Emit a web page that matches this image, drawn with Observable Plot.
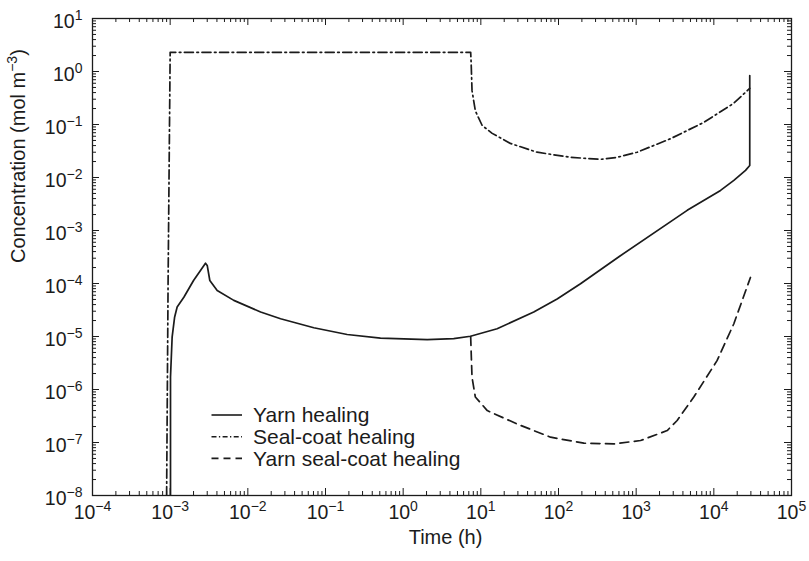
<!DOCTYPE html>
<html><head><meta charset="utf-8">
<script src="https://cdn.jsdelivr.net/npm/d3@7"></script>
<script src="https://cdn.jsdelivr.net/npm/@observablehq/plot@0.6"></script>
<style>html,body{margin:0;padding:0;background:#fff;} #chart{position:relative;width:809px;height:561px;}</style>
</head><body><div id="chart"></div>
<script>
// ---- data ----
const yarnTime = [1.01e-3, 1.01e-3, 1.06e-3, 1.14e-3, 1.23e-3, 1.5e-3, 2.0e-3, 2.85e-3, 3.0e-3, 3.24e-3, 4.03e-3, 6.6e-3, 1.46e-2, 2.64e-2, 7.07e-2, 0.19, 0.51, 2.04, 4.48, 7.36, 16.2, 48, 96, 192, 600, 4540, 12200, 18100, 25600, 29000, 29000];
const yarnConc = [1e-9, 1.7e-6, 9.7e-6, 2.3e-5, 3.6e-5, 5.5e-5, 1.14e-4, 2.42e-4, 2.19e-4, 1.14e-4, 7.4e-5, 4.8e-5, 2.9e-5, 2.16e-5, 1.46e-5, 1.09e-5, 9.3e-6, 8.7e-6, 9.1e-6, 1.01e-5, 1.4e-5, 2.9e-5, 5.1e-5, 9.9e-5, 3.2e-4, 2.4e-3, 5.7e-3, 8.8e-3, 1.36e-2, 1.68e-2, 0.84];

const sealTime = [8.9e-4, 9.4e-4, 1.0e-3, 7.4, 7.5, 7.7, 8.5, 10.4, 14, 24, 53, 143, 347, 569, 1030, 2770, 7360, 17900, 29000];
const sealConc = [1e-9, 1e-4, 2.3, 2.3, 1.5, 0.44, 0.18, 0.096, 0.068, 0.044, 0.030, 0.024, 0.022, 0.024, 0.030, 0.054, 0.109, 0.249, 0.48];

const yscTime = [7.4, 7.55, 7.7, 8.5, 12.1, 29, 79, 212, 515, 1140, 2510, 3370, 5520, 11000, 18100, 29600];
const yscConc = [1.0e-5, 4e-6, 1.7e-6, 7.2e-7, 4.0e-7, 2.25e-7, 1.26e-7, 9.7e-8, 9.4e-8, 1.09e-7, 1.68e-7, 2.6e-7, 7.2e-7, 3.5e-6, 1.74e-5, 1.3e-4];

const seriesNames = ["Yarn healing", "Seal-coat healing", "Yarn seal-coat healing"];

const xMajor = [1e-4, 1e-3, 1e-2, 1e-1, 1e0, 1e1, 1e2, 1e3, 1e4, 1e5];
const xTickLabels = ["10^{−4}", "10^{−3}", "10^{−2}", "10^{−1}", "10^{0}", "10^{1}", "10^{2}", "10^{3}", "10^{4}", "10^{5}"];
const yMajor = [1e-8, 1e-7, 1e-6, 1e-5, 1e-4, 1e-3, 1e-2, 1e-1, 1e0, 1e1];
const yTickLabels = ["10^{−8}", "10^{−7}", "10^{−6}", "10^{−5}", "10^{−4}", "10^{−3}", "10^{−2}", "10^{−1}", "10^{0}", "10^{1}"];
const xTitle = "Time (h)";
const yTitle = "Concentration (mol m^{−3})";

// ---- derived tables ----
const toRows = (T, C) => T.map((t, i) => ({t, c: C[i]}));
const yarnRows = toRows(yarnTime, yarnConc);
const sealRows = toRows(sealTime, sealConc);
const yscRows = toRows(yscTime, yscConc);
const minors = (majors) => majors.slice(0, -1).flatMap(m => [2,3,4,5,6,7,8,9].map(k => m * k));
const xMinor = minors(xMajor);
const yMinor = minors(yMajor);

const W = 809, H = 561, mL = 92, mR = 18, mT = 18, mB = 66;
const fw = W - mL - mR, fh = H - mT - mB;
const ink = "#1b1b1b";
const MAJ = 7, MIN = 4;
const FONT = "'Liberation Sans', Arial, Helvetica, sans-serif";

const lineOpts = {x: "t", y: "c", stroke: ink, strokeWidth: 1.7, strokeLinejoin: "round", clip: true};

const chart = Plot.plot({
  width: W, height: H,
  marginLeft: mL, marginRight: mR, marginTop: mT, marginBottom: mB,
  style: {fontFamily: FONT, background: "#fff", color: ink},
  x: {type: "log", domain: [1e-4, 1e5], axis: null},
  y: {type: "log", domain: [1e-8, 1e1], axis: null},
  marks: [
    Plot.line(sealRows, {...lineOpts, strokeDasharray: "9,3.5,1.6,3.5"}),
    Plot.line(yscRows, {...lineOpts, strokeDasharray: "9,5.5"}),
    Plot.line(yarnRows, lineOpts),
    // inward ticks on all sides
    Plot.tickX(xMajor, {x: d => d, insetTop: fh - MAJ, stroke: ink}),
    Plot.tickX(xMinor, {x: d => d, insetTop: fh - MIN, stroke: ink}),
    Plot.tickX(xMajor, {x: d => d, insetBottom: fh - MAJ, stroke: ink}),
    Plot.tickX(xMinor, {x: d => d, insetBottom: fh - MIN, stroke: ink}),
    Plot.tickY(yMajor, {y: d => d, insetRight: fw - MAJ, stroke: ink}),
    Plot.tickY(yMinor, {y: d => d, insetRight: fw - MIN, stroke: ink}),
    Plot.tickY(yMajor, {y: d => d, insetLeft: fw - MAJ, stroke: ink}),
    Plot.tickY(yMinor, {y: d => d, insetLeft: fw - MIN, stroke: ink}),
    Plot.frame({stroke: ink, strokeWidth: 1.3}),
    // tick labels
    Plot.text(xMajor, {x: d => d, text: (d, i) => xTickLabels[i], frameAnchor: "bottom", dy: 23, fontSize: 19.5, fill: ink}),
    Plot.text(yMajor, {y: d => d, text: (d, i) => yTickLabels[i], frameAnchor: "left", dx: -10, dy: 3, textAnchor: "end", fontSize: 19.5, fill: ink}),
    // axis titles
    Plot.text([xTitle], {text: d => d, frameAnchor: "bottom", dy: 48, dx: 3.5, fontSize: 20, fill: ink}),
    Plot.text([yTitle], {text: d => d, frameAnchor: "left", dx: -74, dy: 6, rotate: -90, fontSize: 20, fill: ink})
  ]
});

// superscripts: "base^{exp}rest"
d3.select(chart).selectAll("text").each(function() {
  const s = this.textContent;
  const m = s.match(/^(.*)\^\{([^}]*)\}(.*)$/);
  if (!m) return;
  const el = d3.select(this);
  el.text(null);
  el.append("tspan").text(m[1]);
  el.append("tspan").attr("dy", -7.5).attr("font-size", 14).text(m[2]);
  if (m[3]) el.append("tspan").attr("dy", 7.5).text(m[3]);
});

// legend
const legendStyles = [
  {dash: null},
  {dash: "5,2.4,1.3,2.4"},
  {dash: "7,5"}
];
const lg = d3.select(chart).append("g")
  .attr("font-family", FONT)
  .attr("font-size", 21).attr("fill", ink).attr("text-anchor", "start");
seriesNames.forEach((name, i) => {
  const y = 415 + i * 21.7;
  lg.append("line").attr("x1", 211.5).attr("x2", 242).attr("y1", y).attr("y2", y)
    .attr("stroke", ink).attr("stroke-width", 1.6)
    .attr("stroke-dasharray", legendStyles[i].dash);
  lg.append("text").attr("x", 253).attr("y", y + 7.2).attr("text-anchor", "start").text(name);
});

document.getElementById("chart").append(chart);
</script>
</body></html>
